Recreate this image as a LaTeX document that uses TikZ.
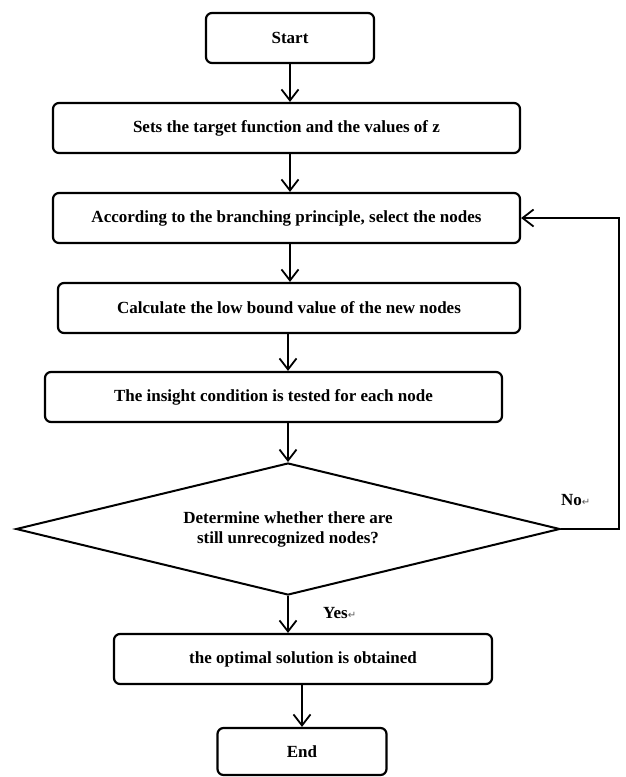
\documentclass[tikz,border=0pt]{standalone}
\usepackage{fontspec}
\setmainfont{Liberation Serif}
\newfontfamily\simbolo{DejaVu Sans}
\usetikzlibrary{shapes.geometric,arrows.meta}
\newcommand{\retorno}{{\simbolo\fontsize{10}{10}\mdseries\selectfont\color{black!65}↵}}

\begin{document}
\begin{tikzpicture}[x=1pt, y=-1pt, %Escala: 1 unidade = 1 pixel
  caixa/.style={draw, line width=2.2pt, rounded corners=6pt, minimum height=50pt, inner sep=0pt, font=\fontsize{17}{20}\bfseries\selectfont},
  decisao/.style={draw, diamond, shape aspect=4.12, line width=2pt, minimum width=544pt, minimum height=132pt, inner sep=0pt, align=center, font=\fontsize{17}{20}\bfseries\selectfont},
  seta/.style={line width=1.8pt, -{Straight Barb[length=11pt,width=17pt,line width=1.8pt]}},
  rotulo/.style={font=\fontsize{17}{20}\bfseries\selectfont, inner sep=0pt}]
  \useasboundingbox (0,0) rectangle (625,777); %Margens da figura
    %Caixas do fluxograma
  \node[caixa, minimum width=168pt] (inicio) at (290,38) {Start};
  \node[caixa, minimum width=467pt] (funcao) at (286.5,128) {Sets the target function and the values of z};
  \node[caixa, minimum width=467pt] (ramificar) at (286.5,218) {According to the branching principle, select the nodes};
  \node[caixa, minimum width=462pt] (limite) at (289,308) {Calculate the low bound value of the new nodes};
  \node[caixa, minimum width=457pt] (teste) at (273.5,397) {The insight condition is tested for each node};
  \node[decisao] (decide) at (288,529) {Determine whether there are\\ still unrecognized nodes?};
  \node[caixa, minimum width=378pt] (otimo) at (303,659) {the optimal solution is obtained};
  \node[caixa, minimum width=169pt, minimum height=47pt] (fim) at (302,751.5) {End};
    %Setas
  \draw[seta] (inicio.south) -- (inicio.south |- funcao.north);
  \draw[seta] (funcao.south -| inicio.south) -- (inicio.south |- ramificar.north);
  \draw[seta] (ramificar.south -| inicio.south) -- (inicio.south |- limite.north);
  \draw[seta] (limite.south -| decide.north) -- (decide.north |- teste.north);
  \draw[seta] (teste.south -| decide.north) -- (decide.north);
  \draw[seta] (decide.south) -- (decide.south |- otimo.north);
  \draw[seta] (otimo.south -| fim.north) -- (fim.north);
    %Retorno (No)
  \coordinate (volta) at (619,529);
  \draw[seta] (decide.east) -- (volta) |- (ramificar.east);
  \node[rotulo, anchor=west] (nao) at (561,500) {No\retorno};
  \node[rotulo, anchor=west] (sim) at (323,613) {Yes\retorno};
\end{tikzpicture}
\end{document}
